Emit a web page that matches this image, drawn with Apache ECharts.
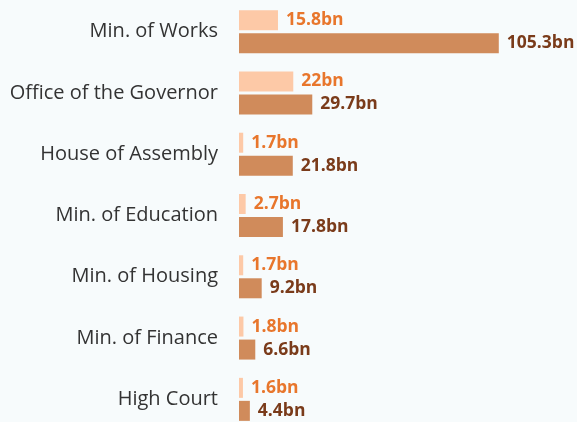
<!DOCTYPE html>
<html>
<head>
    <meta charset="utf-8" />
    <title>ECharts</title>
    <script src="https://cdn.jsdelivr.net/npm/echarts@6/dist/echarts.min.js"></script>
    <style>
        html, body { margin: 0; padding: 0; background: #f7fbfc; }
    </style>
</head>
<body>
    <div id="main" style="width: 577px;height:422px;"></div>

    <script type="text/javascript">
        // categories, top to bottom
        var departments = ['Min. of Works', 'Office of the Governor', 'House of Assembly',
            'Min. of Education', 'Min. of Housing', 'Min. of Finance', 'High Court'];
        // light bars (upper in each pair)
        var lightValues = [15.8, 22, 1.7, 2.7, 1.7, 1.8, 1.6];
        // dark bars (lower in each pair)
        var darkValues = [105.3, 29.7, 21.8, 17.8, 9.2, 6.6, 4.4];

        var myChart = echarts.init(document.getElementById('main'));

        function bnLabel(color) {
            return {
                show: true,
                position: 'right',
                distance: 8,
                color: color,
                fontSize: 17.5,
                fontWeight: 'bold',
                fontFamily: 'Open Sans',
                formatter: function (p) { return p.value + 'bn'; }
            };
        }

        var option = {
            backgroundColor: '#f7fbfc',
            animation: false,
            grid: { left: 239, right: 0, top: 1, height: 429, outerBoundsMode: 'none', containLabel: false },
            xAxis: {
                type: 'value',
                min: 0,
                max: 137,
                show: false
            },
            yAxis: {
                type: 'category',
                data: departments,
                inverse: true,
                axisLine: { show: false },
                axisTick: { show: false },
                axisLabel: {
                    margin: 21,
                    fontSize: 20,
                    color: '#333333',
                    fontFamily: 'Open Sans',
                    padding: [4, 0, 0, 0]
                }
            },
            series: [
                {
                    type: 'bar',
                    data: lightValues,
                    barWidth: 20,
                    barGap: '15%',
                    itemStyle: { color: '#fdc9a7' },
                    label: bnLabel('#e8762c')
                },
                {
                    type: 'bar',
                    data: darkValues,
                    barWidth: 20,
                    itemStyle: { color: '#d08b5b' },
                    label: bnLabel('#7a3b1a')
                }
            ]
        };

        myChart.setOption(option);
    </script>
</body>
</html>
